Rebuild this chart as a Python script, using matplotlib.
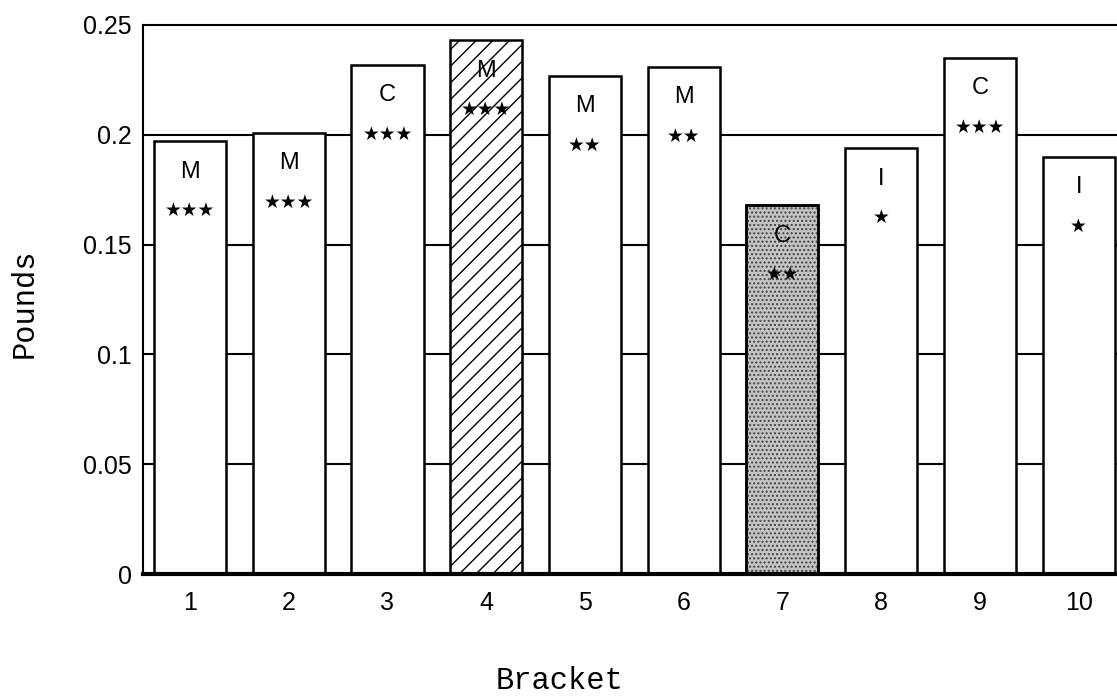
import matplotlib
matplotlib.use("Agg")
import matplotlib.pyplot as plt

brackets = [1, 2, 3, 4, 5, 6, 7, 8, 9, 10]
pounds = [0.197, 0.201, 0.232, 0.243, 0.227, 0.231, 0.168, 0.194, 0.235, 0.190]
letters = ["M", "M", "C", "M", "M", "M", "C", "I", "C", "I"]
stars = ["***", "***", "***", "***", "**", "**", "**", "*", "***", "*"]
fills = ["plain", "plain", "plain", "hatch", "plain", "plain", "dots", "plain", "plain", "plain"]
yticks = [0, 0.05, 0.1, 0.15, 0.2, 0.25]
ytick_labels = ["0", "0.05", "0.1", "0.15", "0.2", "0.25"]

plt.rcParams["hatch.linewidth"] = 1.0
fig = plt.figure(figsize=(11.17, 6.99), dpi=100)
ax = fig.add_axes([143 / 1117, 1 - 574 / 699, (1128 - 143) / 1117, (574 - 25) / 699])

for y in yticks[1:-1]:
    ax.axhline(y, color="black", lw=1.5, zorder=1)

for x, h, f in zip(brackets, pounds, fills):
    if f == "hatch":
        ax.bar(x, h, width=0.73, facecolor="white", edgecolor="black", lw=1.8, hatch="//", zorder=2)
    elif f == "dots":
        ax.bar(x, h, width=0.73, facecolor="#c4c4c4", edgecolor="black", lw=1.8, zorder=2)
        ax.bar(x, h, width=0.73, facecolor="none", edgecolor="#444444", lw=0, hatch="....", zorder=2.1)
        ax.bar(x, h, width=0.73, facecolor="none", edgecolor="black", lw=1.8, zorder=2.2)
    else:
        ax.bar(x, h, width=0.73, facecolor="white", edgecolor="black", lw=1.8, zorder=2)

for x, h, l, s in zip(brackets, pounds, letters, stars):
    ax.annotate(l, (x, h), xytext=(0, -22), textcoords="offset points",
                ha="center", va="center", fontsize=17, family="Liberation Sans", zorder=5)
    ax.annotate(s.replace("*", "\u2605"), (x, h), xytext=(0, -50), textcoords="offset points",
                ha="center", va="center", fontsize=13.5, family="DejaVu Sans", zorder=5)

ax.set_xlim(0.524, 10.5)
ax.set_ylim(0, 0.25)
ax.set_xticks(brackets)
ax.set_xticklabels([str(b) for b in brackets], fontsize=18, family="Liberation Sans")
ax.set_yticks(yticks)
ax.set_yticklabels(ytick_labels, fontsize=18, family="Liberation Sans")
ax.tick_params(length=0, pad=8)
ax.tick_params(axis="x", pad=12)
for side in ["left", "top", "right"]:
    ax.spines[side].set_linewidth(1.5)
ax.spines["bottom"].set_linewidth(3)
ax.spines["bottom"].set_zorder(6)

fig.text(25 / 1117, 1 - 303 / 699, "Pounds", rotation=90, ha="center", va="center",
         fontsize=22, family="Liberation Mono")
fig.text(560 / 1117, 3 / 699, "Bracket", ha="center", va="bottom",
         fontsize=22, family="Liberation Mono")

fig.savefig("out.png", dpi=100)
